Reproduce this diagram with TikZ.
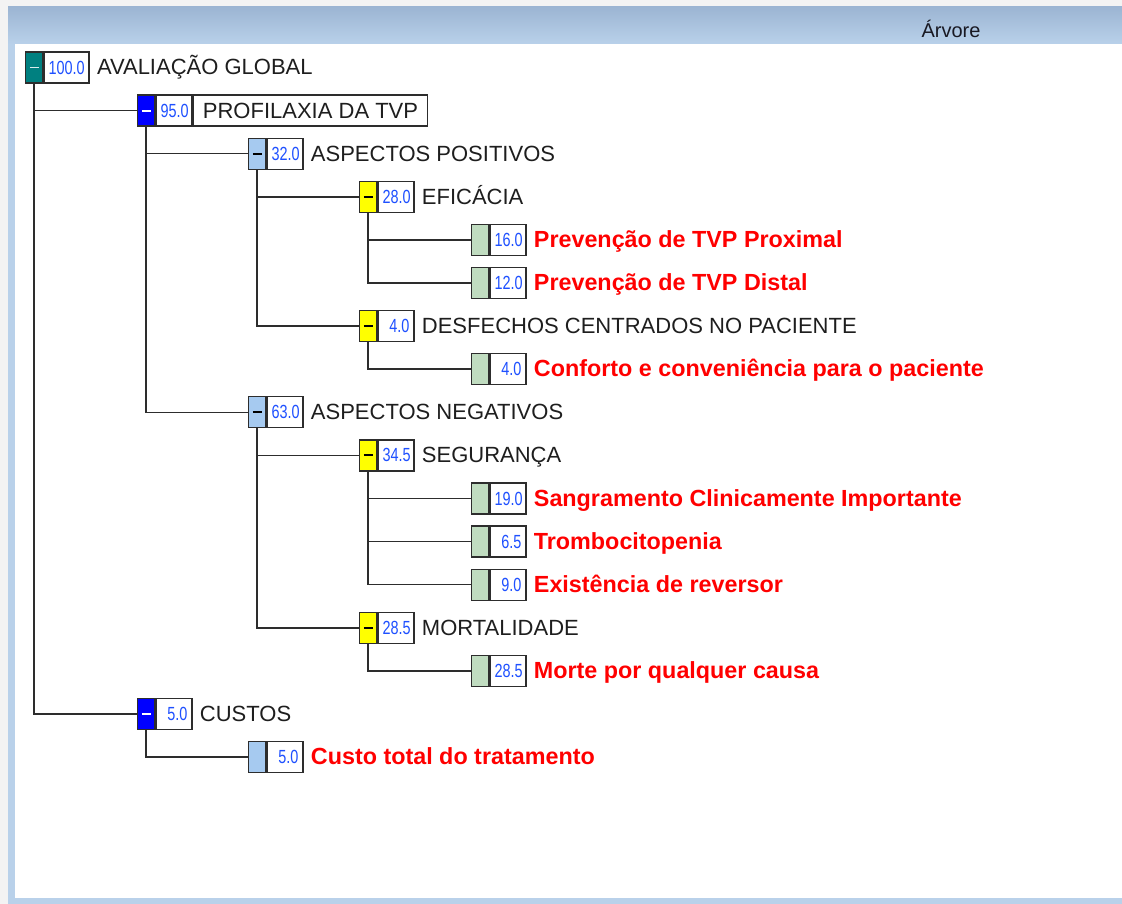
\documentclass[tikz,border=0pt]{standalone}
\usepackage{fontspec}
\setmainfont{Liberation Sans}
\newfontfamily\numfont[FakeStretch=0.76]{Liberation Sans}
\definecolor{bggray}{RGB}{243,243,243}
\definecolor{hdtop}{RGB}{155,180,210}
\definecolor{hdbot}{RGB}{185,209,234}
\definecolor{frameblue}{RGB}{185,209,234}
\definecolor{edge}{RGB}{45,45,45}
\definecolor{tealsw}{RGB}{0,128,128}
\definecolor{bluesw}{RGB}{0,0,255}
\definecolor{ltbluesw}{RGB}{166,202,240}
\definecolor{yellowsw}{RGB}{255,255,0}
\definecolor{greensw}{RGB}{192,220,192}
\definecolor{numblue}{RGB}{30,80,255}
\definecolor{labtext}{RGB}{30,30,30}
\definecolor{leafred}{RGB}{255,0,0}
\definecolor{titletext}{RGB}{25,25,35}
\newcommand\dashmark[1]{\textcolor{#1}{\rule{6.5pt}{1.4pt}}}
\begin{document}
\begin{tikzpicture}[x=0.75pt,y=-0.75pt,
  sw/.style={draw=edge, line width=1pt, minimum width=12.75pt, minimum height=23.25pt, inner sep=0pt, anchor=west},
  vb/.style={draw=edge, line width=1pt, anchor=west, minimum height=23.25pt, inner xsep=3.4pt, inner ysep=0pt, text width=20.2pt, align=right, font=\numfont\fontsize{14.25}{15}\selectfont, text=numblue},
  vbw/.style={vb, text width=27pt},
  lab/.style={anchor=base west, inner sep=0pt, font=\fontsize{16.5}{18}\selectfont, text=labtext},
  leaf/.style={anchor=base west, inner sep=0pt, font=\bfseries\fontsize{17.5}{19}\selectfont, text=leafred},
  conn/.style={draw=edge, line width=1.15pt},
  hdr/.style={font=\fontsize{15}{16}\selectfont, text=titletext, inner sep=0pt}]
\useasboundingbox (0,0) rectangle (1122,904);
% window
\fill[bggray] (0,0) rectangle (1122,904);
\shade[top color=hdtop, bottom color=hdbot] (8,6) rectangle (1122,44);
\fill[frameblue] (8,44) rectangle (1122,904);
\fill[white] (15,44) rectangle (1122,898);
\node[hdr] (title) at (951,29) {Árvore};

% row 0
\node[sw, fill=tealsw] (c0) at (25,67.5) {\dashmark{white!85!tealsw}};
\node[vbw] (v0) at (c0.east) {100.0};
\node[lab] (t0) at ([xshift=5.25pt,yshift=-5.6pt]v0.east) {AVALIAÇÃO GLOBAL};
% row 1
\node[sw, fill=bluesw] (c1) at (137,110.6) {\dashmark{white}};
\node[vb] (v1) at (c1.east) {95.0};
\node[draw=edge, line width=1pt, anchor=west, minimum height=23.25pt, inner xsep=7.2pt, inner ysep=0pt, font=\fontsize{16.5}{18}\selectfont, text=labtext] (t1) at (v1.east) {PROFILAXIA DA TVP};
% row 2
\node[sw, fill=ltbluesw] (c2) at (248,153.7) {\dashmark{black}};
\node[vb] (v2) at (c2.east) {32.0};
\node[lab] (t2) at ([xshift=5.25pt,yshift=-5.6pt]v2.east) {ASPECTOS POSITIVOS};
% row 3
\node[sw, fill=yellowsw] (c3) at (359,196.8) {\dashmark{black}};
\node[vb] (v3) at (c3.east) {28.0};
\node[lab] (t3) at ([xshift=5.25pt,yshift=-5.6pt]v3.east) {EFICÁCIA};
% row 4
\node[sw, fill=greensw] (c4) at (471,239.9) {};
\node[vb] (v4) at (c4.east) {16.0};
\node[leaf] (t4) at ([xshift=5.25pt,yshift=-5.8pt]v4.east) {Prevenção de TVP Proximal};
% row 5
\node[sw, fill=greensw] (c5) at (471,283.0) {};
\node[vb] (v5) at (c5.east) {12.0};
\node[leaf] (t5) at ([xshift=5.25pt,yshift=-5.8pt]v5.east) {Prevenção de TVP Distal};
% row 6
\node[sw, fill=yellowsw] (c6) at (359,326.1) {\dashmark{black}};
\node[vb] (v6) at (c6.east) {4.0};
\node[lab] (t6) at ([xshift=5.25pt,yshift=-5.6pt]v6.east) {DESFECHOS CENTRADOS NO PACIENTE};
% row 7
\node[sw, fill=greensw] (c7) at (471,369.2) {};
\node[vb] (v7) at (c7.east) {4.0};
\node[leaf] (t7) at ([xshift=5.25pt,yshift=-5.8pt]v7.east) {Conforto e conveniência para o paciente};
% row 8
\node[sw, fill=ltbluesw] (c8) at (248,412.3) {\dashmark{black}};
\node[vb] (v8) at (c8.east) {63.0};
\node[lab] (t8) at ([xshift=5.25pt,yshift=-5.6pt]v8.east) {ASPECTOS NEGATIVOS};
% row 9
\node[sw, fill=yellowsw] (c9) at (359,455.4) {\dashmark{black}};
\node[vb] (v9) at (c9.east) {34.5};
\node[lab] (t9) at ([xshift=5.25pt,yshift=-5.6pt]v9.east) {SEGURANÇA};
% row 10
\node[sw, fill=greensw] (c10) at (471,498.5) {};
\node[vb] (v10) at (c10.east) {19.0};
\node[leaf] (t10) at ([xshift=5.25pt,yshift=-5.8pt]v10.east) {Sangramento Clinicamente Importante};
% row 11
\node[sw, fill=greensw] (c11) at (471,541.6) {};
\node[vb] (v11) at (c11.east) {6.5};
\node[leaf] (t11) at ([xshift=5.25pt,yshift=-5.8pt]v11.east) {Trombocitopenia};
% row 12
\node[sw, fill=greensw] (c12) at (471,584.7) {};
\node[vb] (v12) at (c12.east) {9.0};
\node[leaf] (t12) at ([xshift=5.25pt,yshift=-5.8pt]v12.east) {Existência de reversor};
% row 13
\node[sw, fill=yellowsw] (c13) at (359,627.8) {\dashmark{black}};
\node[vb] (v13) at (c13.east) {28.5};
\node[lab] (t13) at ([xshift=5.25pt,yshift=-5.6pt]v13.east) {MORTALIDADE};
% row 14
\node[sw, fill=greensw] (c14) at (471,670.9) {};
\node[vb] (v14) at (c14.east) {28.5};
\node[leaf] (t14) at ([xshift=5.25pt,yshift=-5.8pt]v14.east) {Morte por qualquer causa};
% row 15
\node[sw, fill=bluesw] (c15) at (137,714.0) {\dashmark{white}};
\node[vb] (v15) at (c15.east) {5.0};
\node[lab] (t15) at ([xshift=5.25pt,yshift=-5.6pt]v15.east) {CUSTOS};
% row 16
\node[sw, fill=ltbluesw] (c16) at (248,757.1) {};
\node[vb] (v16) at (c16.east) {5.0};
\node[leaf] (t16) at ([xshift=5.25pt,yshift=-5.8pt]v16.east) {Custo total do tratamento};

% connectors
\draw[conn] (c0.south) |- (c1.west);
\draw[conn] (c0.south) |- (c15.west);
\draw[conn] (c1.south) |- (c2.west);
\draw[conn] (c1.south) |- (c8.west);
\draw[conn] (c2.south) |- (c3.west);
\draw[conn] (c2.south) |- (c6.west);
\draw[conn] (c3.south) |- (c4.west);
\draw[conn] (c3.south) |- (c5.west);
\draw[conn] (c6.south) |- (c7.west);
\draw[conn] (c8.south) |- (c9.west);
\draw[conn] (c8.south) |- (c13.west);
\draw[conn] (c9.south) |- (c10.west);
\draw[conn] (c9.south) |- (c11.west);
\draw[conn] (c9.south) |- (c12.west);
\draw[conn] (c13.south) |- (c14.west);
\draw[conn] (c15.south) |- (c16.west);
\end{tikzpicture}
\end{document}
